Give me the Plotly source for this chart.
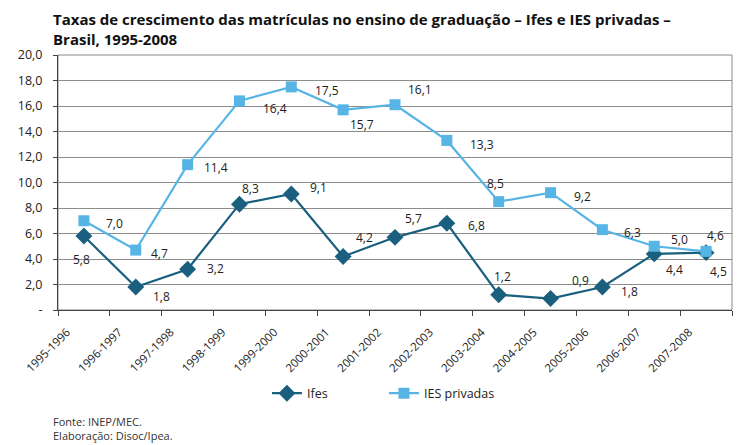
import plotly.graph_objects as go

periodos = ["1995-1996", "1996-1997", "1997-1998", "1998-1999", "1999-2000", "2000-2001",
            "2001-2002", "2002-2003", "2003-2004", "2004-2005", "2005-2006", "2006-2007", "2007-2008"]
ifes = [5.8, 1.8, 3.2, 8.3, 9.1, 4.2, 5.7, 6.8, 1.2, 0.9, 1.8, 4.4, 4.5]
privadas = [7.0, 4.7, 11.4, 16.4, 17.5, 15.7, 16.1, 13.3, 8.5, 9.2, 6.3, 5.0, 4.6]
y_ticks = [0, 2, 4, 6, 8, 10, 12, 14, 16, 18, 20]

# label offsets in px (dx, dy) for each data label
off_ifes = [(-2, -23), (26, -9), (28, 1), (11, 16), (27, 6), (21, 19), (18, 19),
            (30, -2), (4, 18), (30, 18), (27, -4), (20, -16), (12, -19)]
off_priv = [(31, -3), (24, -3), (28, -3), (36, -8), (36, -4), (19, -15), (25, 15),
            (35, -4), (-3, 18), (32, -4), (30, -3), (25, 7), (9, 16)]

C_IFES = "#1B5F7E"
C_PRIV = "#57B5E6"
FONT = "Open Sans, DejaVu Sans, sans-serif"

def fmt(v):
    return f"{v:.1f}".replace(".", ",")

fig = go.Figure()
fig.add_trace(go.Scatter(x=periodos, y=ifes, name="Ifes", mode="lines+markers",
                         line=dict(color=C_IFES, width=2.2),
                         marker=dict(symbol="diamond", size=13, color=C_IFES)))
fig.add_trace(go.Scatter(x=periodos, y=privadas, name="IES privadas", mode="lines+markers",
                         line=dict(color=C_PRIV, width=2.2),
                         marker=dict(symbol="square", size=11, color=C_PRIV)))

for vals, offs in ((ifes, off_ifes), (privadas, off_priv)):
    for p, v, (dx, dy) in zip(periodos, vals, offs):
        fig.add_annotation(x=p, y=v, text=fmt(v), showarrow=False, xshift=dx, yshift=dy,
                           font=dict(family=FONT, size=12, color="#222"))

# page body has an 8px margin, so the figure is 8px smaller than the window
fig.update_layout(
    width=733, height=437,
    margin=dict(l=50, r=9, t=47, b=135, autoexpand=False),
    paper_bgcolor="white", plot_bgcolor="white",
    showlegend=True,
    legend=dict(orientation="h", x=0.31, xanchor="left", yref="container", y=0.152, yanchor="top",
                entrywidth=72, font=dict(family=FONT, size=12.5, color="#222")),
    font=dict(family=FONT, color="#222"),
)
fig.add_annotation(xref="paper", yref="paper", x=0, y=1.0, xshift=-7, yshift=48, xanchor="left", yanchor="top",
                   align="left", showarrow=False,
                   text="<b>Taxas de crescimento das matrículas no ensino de graduação – Ifes e IES privadas –<br>Brasil, 1995-2008</b>",
                   font=dict(family=FONT, size=15, color="#111"))
fig.add_annotation(xref="paper", yref="paper", x=0, y=0, xshift=-7, yshift=-102, xanchor="left", yanchor="top",
                   align="left", showarrow=False,
                   text="Fonte: INEP/MEC.<br>Elaboração: Disoc/Ipea.",
                   font=dict(family=FONT, size=11, color="#333"))

fig.update_xaxes(type="category", tickson="boundaries", ticks="outside", ticklen=5,
                 tickcolor="#444", showline=True, linecolor="#444", linewidth=1, mirror=False,
                 showgrid=False, tickangle=-45, tickfont=dict(family=FONT, size=11.5, color="#222"),
                 range=[-0.5, 12.5], automargin=False, ticklabelshift=-17, ticklabelstandoff=10)
fig.update_yaxes(range=[0, 20], tickvals=y_ticks,
                 ticktext=["-"] + [fmt(t) for t in y_ticks[1:]],
                 ticks="outside", ticklen=4, tickcolor="#444",
                 showline=True, linecolor="#444", linewidth=1,
                 showgrid=True, gridcolor="#8c8c8c", gridwidth=1, zeroline=False,
                 tickfont=dict(family=FONT, size=12.5, color="#222"),
                 automargin=False, ticklabelstandoff=8)
# frame top/right
fig.add_shape(type="rect", xref="paper", yref="paper", x0=0, y0=0, x1=1, y1=1,
              line=dict(color="#888", width=1), layer="below")

fig.write_html("out.html")
